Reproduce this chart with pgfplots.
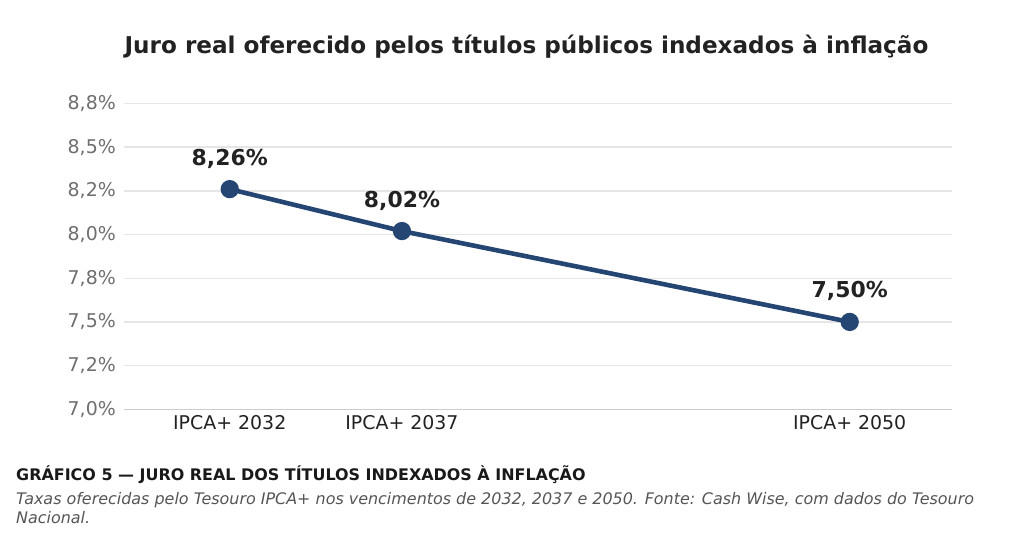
\documentclass[border=0pt]{standalone}
\usepackage{fontspec}
\setmainfont{DejaVu Sans}
\usepackage{pgfplots}
\pgfplotsset{compat=1.18}
\usepackage{pgfplotstable}
\definecolor{navy}{RGB}{37,69,115}
\definecolor{tickgray}{RGB}{110,110,110}
\definecolor{txt}{RGB}{34,34,34}
\definecolor{gridc}{RGB}{230,230,230}
\definecolor{spine}{RGB}{204,204,204}
\definecolor{capgray}{RGB}{85,85,85}
\pgfplotstableread{
x y lab
2032 8.26 {8,26\%}
2037 8.02 {8,02\%}
2050 7.50 {7,50\%}
}\datatable
\begin{document}
\begin{tikzpicture}
\path[use as bounding box] (0,0) rectangle (1024bp,-548bp);
\node[anchor=base, inner sep=0pt, font=\fontsize{23.2}{27}\selectfont\bfseries, text=txt] at (526.5bp,-53bp) {Juro real oferecido pelos títulos públicos indexados à inflação};
\begin{axis}[
  at={(124bp,-409.3bp)}, anchor=south west,
  scale only axis, width=828bp, height=305.8bp,
  xmin=2028.93, xmax=2052.97,
  ymin=7.0, ymax=8.75,
  axis x line*=bottom, axis y line*=left,
  x axis line style={draw=spine, line width=1.2bp, -},
  y axis line style={draw=none},
  ytick={7,7.25,7.5,7.75,8,8.25,8.5,8.75},
  yticklabels={{7,0\%},{7,2\%},{7,5\%},{7,8\%},{8,0\%},{8,2\%},{8,5\%},{8,8\%}},
  ymajorgrids, grid style={draw=gridc, line width=1.4bp},
  xtick={2032,2037,2050},
  xticklabels={IPCA+ 2032, IPCA+ 2037, IPCA+ 2050},
  major tick length=0pt,
  yticklabel style={font=\fontsize{19}{22}\selectfont, text=tickgray, inner sep=0pt, anchor=east, xshift=-8bp},
  xticklabel style={font=\fontsize{19}{22}\selectfont, text=txt, inner sep=0pt, anchor=north, yshift=-6bp},
  clip=false,
]
\addplot[navy, line width=4.6bp, mark=*, mark size=6.8bp,
  nodes near coords, point meta=explicit symbolic,
  every node near coord/.style={font=\fontsize{22}{26}\selectfont\bfseries, text=txt, anchor=base, inner sep=0pt, yshift=24bp}
] table[x=x, y=y, meta=lab] {\datatable};
\end{axis}
\node[anchor=base west, inner sep=0pt, font=\fontsize{16}{19}\selectfont\bfseries, text=black!90] at (16bp,-480bp) {GRÁFICO 5 — JURO REAL DOS TÍTULOS INDEXADOS À INFLAÇÃO};
\node[anchor=base west, inner sep=0pt, font=\fontsize{16}{19}\selectfont\itshape, text=capgray] at (16bp,-504bp) {Taxas oferecidas pelo Tesouro IPCA+ nos vencimentos de 2032, 2037 e 2050. Fonte: Cash Wise, com dados do Tesouro};
\node[anchor=base west, inner sep=0pt, font=\fontsize{16}{19}\selectfont\itshape, text=capgray] at (16bp,-523bp) {Nacional.};
\end{tikzpicture}
\end{document}
